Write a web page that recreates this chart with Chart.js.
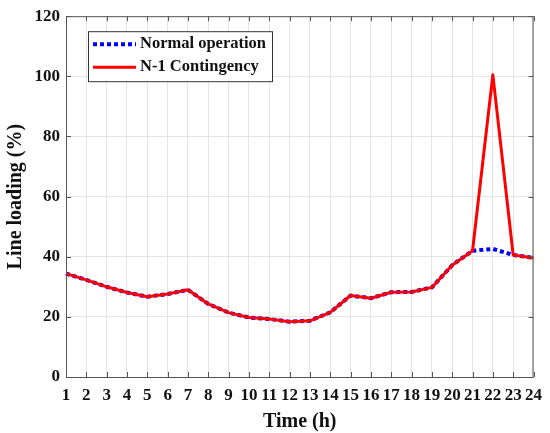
<!DOCTYPE html>
<html>
<head>
<meta charset="utf-8">
<script src="https://cdn.jsdelivr.net/npm/chart.js@4/dist/chart.umd.min.js"></script>
<style>
  html, body { margin: 0; padding: 0; background: #fff; }
  #wrap { width: 550px; height: 433px; }
</style>
</head>
<body>
<div id="wrap"><canvas id="myChart"></canvas></div>
<script>
// Data
var hours = ['1','2','3','4','5','6','7','8','9','10','11','12','13','14','15','16','17','18','19','20','21','22','23','24'];
var normalOp = [34.4, 32.3, 30.0, 28.1, 26.7, 27.6, 29.0, 24.3, 21.4, 19.8, 19.3, 18.4, 18.7, 21.5, 27.1, 26.2, 28.2, 28.3, 29.8, 37.2, 42.0, 42.6, 40.6, 39.6];
var contingency = [34.4, 32.3, 30.0, 28.1, 26.7, 27.6, 29.0, 24.3, 21.4, 19.8, 19.3, 18.4, 18.7, 21.5, 27.1, 26.2, 28.2, 28.3, 29.8, 37.2, 42.0, 100.5, 40.6, 39.6];
var yTicks = [0, 20, 40, 60, 80, 100, 120];

var FONT = '"Liberation Serif", "DejaVu Serif", serif';

// box, inward ticks and legend drawn like MATLAB
var matlabFrame = {
    id: 'matlabFrame',
    afterDraw: function (chart) {
        var ctx = chart.ctx;
        var a = chart.chartArea;
        var xs = chart.scales.x, ys = chart.scales.y;
        ctx.save();
        ctx.strokeStyle = '#555';
        ctx.lineWidth = 1;
        ctx.strokeRect(a.left + 0.5, a.top + 0.5, a.right - a.left - 1, a.bottom - a.top);
        ctx.beginPath();
        for (var i = 0; i < hours.length; i++) {
            var px = Math.round(xs.getPixelForValue(i)) + 0.5;
            ctx.moveTo(px, a.bottom); ctx.lineTo(px, a.bottom - 5);
            ctx.moveTo(px, a.top); ctx.lineTo(px, a.top + 5);
        }
        for (var j = 0; j < yTicks.length; j++) {
            var py = Math.round(ys.getPixelForValue(yTicks[j])) + 0.5;
            ctx.moveTo(a.left, py); ctx.lineTo(a.left + 5, py);
            ctx.moveTo(a.right, py); ctx.lineTo(a.right - 5, py);
        }
        ctx.stroke();

        // legend
        var lx = a.left + 22, ly = a.top + 15, lw = 184, lh = 50;
        ctx.fillStyle = '#fff';
        ctx.fillRect(lx, ly, lw, lh);
        ctx.strokeStyle = '#333';
        ctx.strokeRect(lx + 0.5, ly + 0.5, lw, lh);
        var items = chart.data.datasets;
        ctx.font = 'bold 16.5px ' + FONT;
        ctx.textBaseline = 'middle';
        for (var k = 0; k < items.length; k++) {
            var cy = ly + 13 + k * 23;
            ctx.beginPath();
            ctx.strokeStyle = items[k].borderColor;
            ctx.lineWidth = items[k].borderWidth;
            ctx.setLineDash(items[k].borderDash || []);
            ctx.moveTo(lx + 5, cy); ctx.lineTo(lx + 48, cy);
            ctx.stroke();
            ctx.setLineDash([]);
            ctx.fillStyle = '#111';
            ctx.fillText(items[k].label, lx + 52, cy);
        }
        ctx.restore();
    }
};

var ctx = document.getElementById('myChart').getContext('2d');
var myChart = new Chart(ctx, {
    type: 'line',
    data: {
        labels: hours,
        datasets: [{
            label: 'Normal operation',
            data: normalOp,
            borderColor: '#0000ff',
            borderWidth: 4,
            borderDash: [4, 3],
            pointRadius: 0,
            tension: 0,
            order: 2
        }, {
            label: 'N-1 Contingency',
            data: contingency,
            borderColor: '#ff0000',
            borderWidth: 3,
            borderJoinStyle: 'round',
            pointRadius: 0,
            tension: 0,
            order: 1
        }]
    },
    options: {
        responsive: true,
        maintainAspectRatio: false,
        animation: false,
        layout: { padding: { top: 15, right: 15, left: 0, bottom: 0 } },
        plugins: {
            legend: { display: false },
            tooltip: { enabled: false }
        },
        scales: {
            x: {
                grid: { color: '#e4e4e4', drawTicks: false },
                border: { display: false },
                ticks: {
                    color: '#111', padding: 8, maxRotation: 0, autoSkip: false,
                    font: { family: FONT, size: 17, weight: 'bold' }
                },
                title: {
                    display: true, text: 'Time (h)', color: '#111', padding: { top: 5, bottom: -1 },
                    font: { family: FONT, size: 20, weight: 'bold' }
                },
                afterFit: function (s) { s.height = 56; }
            },
            y: {
                min: 0, max: 120,
                grid: { color: '#e4e4e4', drawTicks: false },
                border: { display: false },
                ticks: {
                    color: '#111', padding: 6, stepSize: 20,
                    font: { family: FONT, size: 17, weight: 'bold' }
                },
                title: {
                    display: true, text: 'Line loading (%)', color: '#111', padding: { bottom: 2 },
                    font: { family: FONT, size: 20, weight: 'bold' }
                },
                afterFit: function (s) { s.width = 66; }
            }
        }
    },
    plugins: [matlabFrame]
});
</script>
</body>
</html>
